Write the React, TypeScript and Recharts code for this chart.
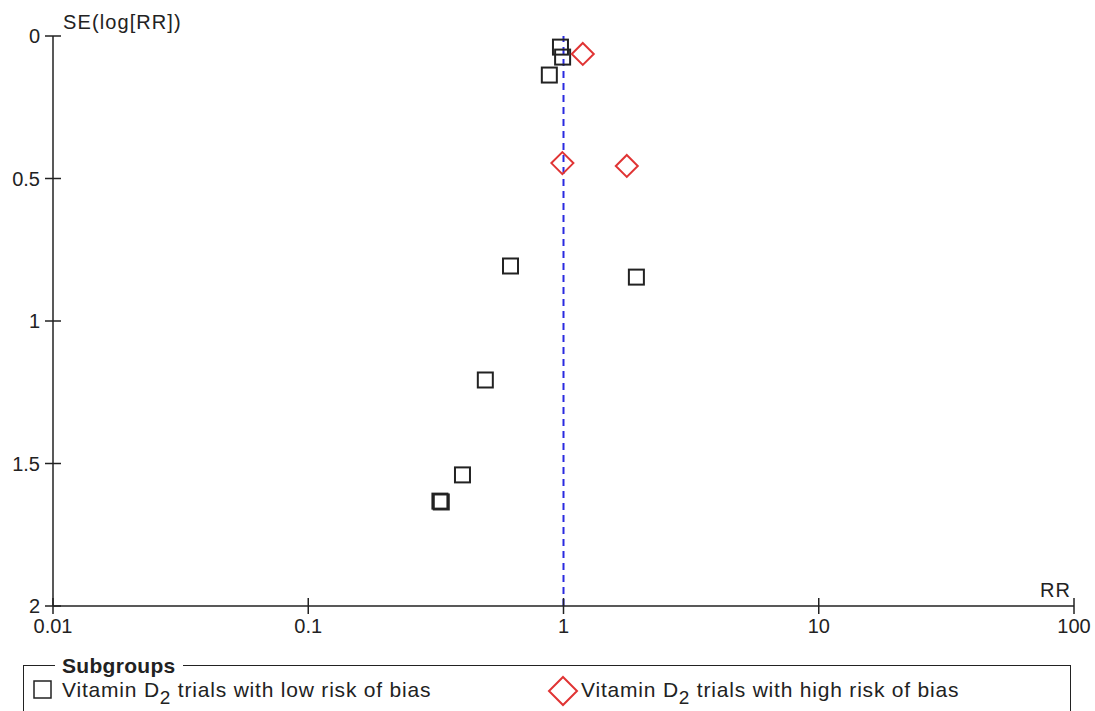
import React from "react"
import { ScatterChart, Scatter, XAxis, YAxis, ReferenceLine, Legend, Customized } from "recharts"

// funnel plot: relative risk vs standard error of log(RR)
const lowRiskRR = [0.973, 0.992, 0.88, 0.62, 1.93, 0.494, 0.402, 0.328, 0.332]
const lowRiskSE = [0.039, 0.074, 0.137, 0.807, 0.846, 1.207, 1.54, 1.632, 1.635]
const highRiskRR = [1.19, 0.99, 1.77]
const highRiskSE = [0.063, 0.446, 0.456]

const xTicks = [0.01, 0.1, 1, 10, 100]
const yTicks = [0, 0.5, 1, 1.5, 2]

const lowLabel = "Vitamin D"
const highLabel = "Vitamin D"
const lowSuffix = " trials with low risk of bias"
const highSuffix = " trials with high risk of bias"

const lowData = lowRiskRR.map((rr, i) => ({ rr, se: lowRiskSE[i] }))
const highData = highRiskRR.map((rr, i) => ({ rr, se: highRiskSE[i] }))

const FONT = '"Liberation Sans", Arial, sans-serif'
const RED = "#e03434"
const INK = "#222"

const SquareShape = (props: any) => {
  const { cx, cy } = props
  if (cx == null || cy == null) return null
  return <rect x={cx - 7.5} y={cy - 7.5} width={15} height={15} fill="none" stroke={INK} strokeWidth={2} />
}

const DiamondShape = (props: any) => {
  const { cx, cy } = props
  if (cx == null || cy == null) return null
  const r = 11
  return (
    <polygon
      points={`${cx},${cy - r} ${cx + r},${cy} ${cx},${cy + r} ${cx - r},${cy}`}
      fill="none"
      stroke={RED}
      strokeWidth={2}
    />
  )
}

const YTick = (props: any) => {
  const { x, y, payload } = props
  const axisX = x + 12
  return (
    <g>
      <line x1={axisX - 8} x2={axisX + 8} y1={y} y2={y} stroke={INK} strokeWidth={1.5} />
      <text x={x - 1} y={y + 7} textAnchor="end" fontSize={20} fontFamily={FONT} fill={INK}>
        {String(payload.value)}
      </text>
    </g>
  )
}

const XTick = (props: any) => {
  const { x, y, payload } = props
  const axisY = y - 12
  return (
    <g>
      <line x1={x} x2={x} y1={axisY - 8} y2={axisY + 8} stroke={INK} strokeWidth={1.5} />
      <text x={x} y={y + 15} textAnchor="middle" fontSize={20} fontFamily={FONT} fill={INK}>
        {String(payload.value)}
      </text>
    </g>
  )
}

const Labels = () => (
  <g fontFamily={FONT} fill={INK} fontSize={20}>
    <text x={63} y={29} letterSpacing={1.1}>SE(log[RR])</text>
    <text x={1071} y={597} textAnchor="end" letterSpacing={1}>RR</text>
  </g>
)

const LegendBox = () => (
  <div style={{ position: "relative", width: 1095, height: 80, fontFamily: FONT, color: INK }}>
    <div
      style={{
        position: "absolute",
        left: 23,
        top: 19,
        width: 1048,
        height: 100,
        border: `1.5px solid ${INK}`,
        boxSizing: "border-box",
      }}
    />
    <span
      style={{
        position: "absolute",
        left: 55,
        top: 8,
        padding: "0 7px",
        background: "#fff",
        fontWeight: "bold",
        fontSize: 21,
        lineHeight: "24px",
        letterSpacing: 0.3,
      }}
    >
      Subgroups
    </span>
    <svg style={{ position: "absolute", left: 0, top: 0 }} width={1095} height={80}>
      <rect x={34} y={35} width={17} height={17} fill="none" stroke={INK} strokeWidth={1.5} />
      <polygon points="563,31 577,45 563,59 549,45" fill="none" stroke={RED} strokeWidth={2} />
      <text x={62} y={51} fontSize={21} fontFamily={FONT} fill={INK} letterSpacing={0.8}>
        {lowLabel}
        <tspan dy={7} fontSize={19}>2</tspan>
        <tspan dy={-7}>{lowSuffix}</tspan>
      </text>
      <text x={581} y={51} fontSize={21} fontFamily={FONT} fill={INK} letterSpacing={0.8}>
        {highLabel}
        <tspan dy={7} fontSize={19}>2</tspan>
        <tspan dy={-7}>{highSuffix}</tspan>
      </text>
    </svg>
  </div>
)

export default function App() {
  return (
    <div style={{ position: "absolute", left: 0, top: 0, width: 1095, height: 711, background: "#fff" }}>
      <ScatterChart width={1095} height={711} margin={{ top: 36, right: 21, left: 0, bottom: 65 }}>
        <XAxis
          type="number"
          dataKey="rr"
          scale="log"
          domain={[0.01, 100]}
          ticks={xTicks}
          allowDataOverflow
          height={40}
          tickSize={0}
          tickMargin={12}
          tick={<XTick />}
          axisLine={{ stroke: INK, strokeWidth: 1.5 }}
        />
        <YAxis
          type="number"
          dataKey="se"
          reversed
          domain={[0, 2]}
          ticks={yTicks}
          width={53}
          tickSize={0}
          tickMargin={12}
          tick={<YTick />}
          axisLine={{ stroke: INK, strokeWidth: 1.5 }}
        />
        <ReferenceLine x={1} stroke="#2a2ae0" strokeWidth={2} strokeDasharray="7 5" />
        <Scatter data={lowData} shape={<SquareShape />} isAnimationActive={false} />
        <Scatter data={highData} shape={<DiamondShape />} isAnimationActive={false} />
        <Customized component={Labels} />
        <Legend
          layout="horizontal"
          verticalAlign="middle"
          align="center"
          wrapperStyle={{ position: "absolute", left: 0, top: 646, width: 1095, height: 80 }}
          content={() => <LegendBox />}
        />
      </ScatterChart>
    </div>
  )
}
